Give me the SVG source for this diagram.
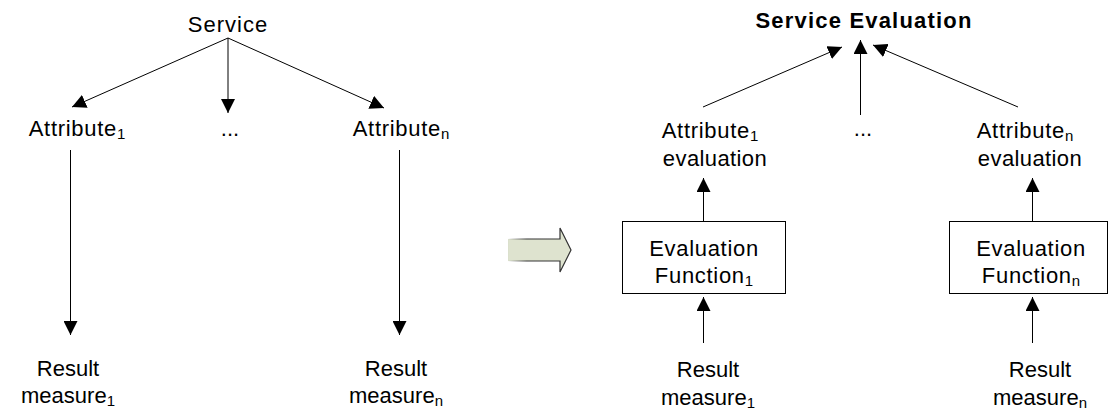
<svg xmlns="http://www.w3.org/2000/svg" width="1109" height="413" viewBox="0 0 1109 413">
<style>
text{font-family:"Liberation Sans",Arial,sans-serif;font-size:22px;fill:#000;text-anchor:middle;letter-spacing:0.7px}
.b{font-weight:bold;letter-spacing:1.2px}
.n{letter-spacing:0}
.sub{font-size:15px;letter-spacing:0}
.c{stroke:#000;stroke-width:1;fill:none;marker-end:url(#ah)}
.box{fill:#fff;stroke:#000;stroke-width:1}
</style>
<defs>
<marker id="ah" markerUnits="userSpaceOnUse" markerWidth="14" markerHeight="14" viewBox="0 0 13 13" refX="13" refY="6.5" orient="auto">
<path d="M0,0 L13,6.5 L0,13 z" fill="#000"/>
</marker>
<linearGradient id="edge" x1="508" y1="0" x2="571" y2="0" gradientUnits="userSpaceOnUse">
<stop offset="0" stop-color="#333" stop-opacity="0"/>
<stop offset="0.3" stop-color="#333" stop-opacity="1"/>
<stop offset="1" stop-color="#333" stop-opacity="1"/>
</linearGradient>
</defs>
<g id="service"><text x="228" y="32" style="letter-spacing:1px">Service</text></g>
<g id="attr1"><text x="77" y="136">Attribute<tspan class="sub" dy="3">1</tspan></text></g>
<g id="dots-left"><text class="n" x="230" y="136">...</text></g>
<g id="attrn"><text x="401" y="136">Attribute<tspan class="sub" dy="3">n</tspan></text></g>
<g id="result1"><text class="n" x="68" y="376">Result</text><text class="n" x="68" y="403">measure<tspan class="sub" dy="3">1</tspan></text></g>
<g id="resultn"><text class="n" x="396" y="376">Result</text><text class="n" x="396" y="403">measure<tspan class="sub" dy="3">n</tspan></text></g>
<g id="transform-arrow">
<path d="M508,239 L560,239 L560,228 L571,250 L560,272 L560,261 L508,261 z" fill="#dee3cf" stroke="url(#edge)" stroke-width="1.2"/>
</g>
<g id="service-eval"><text class="b" x="864" y="28">Service Evaluation</text></g>
<g id="attr1-eval"><text x="710" y="138">Attribute<tspan class="sub" dy="3">1</tspan></text><text x="715" y="166" style="letter-spacing:0.4px">evaluation</text></g>
<g id="dots-right"><text class="n" x="863" y="136">...</text></g>
<g id="attrn-eval"><text x="1025" y="138">Attribute<tspan class="sub" dy="3">n</tspan></text><text x="1030" y="166" style="letter-spacing:0.4px">evaluation</text></g>
<g id="func1"><rect class="box" x="622.5" y="221.5" width="163" height="72"/><text x="704" y="256">Evaluation</text><text x="704" y="283">Function<tspan class="sub" dy="3">1</tspan></text></g>
<g id="funcn"><rect class="box" x="949.5" y="221.5" width="158" height="72"/><text x="1031" y="256">Evaluation</text><text x="1031" y="283">Function<tspan class="sub" dy="3">n</tspan></text></g>
<g id="result1-r"><text class="n" x="708" y="377">Result</text><text class="n" x="708" y="405">measure<tspan class="sub" dy="3">1</tspan></text></g>
<g id="resultn-r"><text class="n" x="1040" y="377">Result</text><text class="n" x="1040" y="405">measure<tspan class="sub" dy="3">n</tspan></text></g>
<g id="connectors">
<path class="c" d="M228,38 L72,107"/>
<path class="c" d="M228,38 L228,113"/>
<path class="c" d="M228,38 L384,108"/>
<path class="c" d="M70.5,150 L70.5,335"/>
<path class="c" d="M399.5,150 L399.5,335"/>
<path class="c" d="M703,107 L842,47"/>
<path class="c" d="M860.5,115 L860.5,40"/>
<path class="c" d="M1018,107 L873,45"/>
<path class="c" d="M703.5,221 L703.5,178"/>
<path class="c" d="M1032.5,221 L1032.5,178"/>
<path class="c" d="M703.5,343 L703.5,297"/>
<path class="c" d="M1032.5,343 L1032.5,297"/>
</g>
</svg>
